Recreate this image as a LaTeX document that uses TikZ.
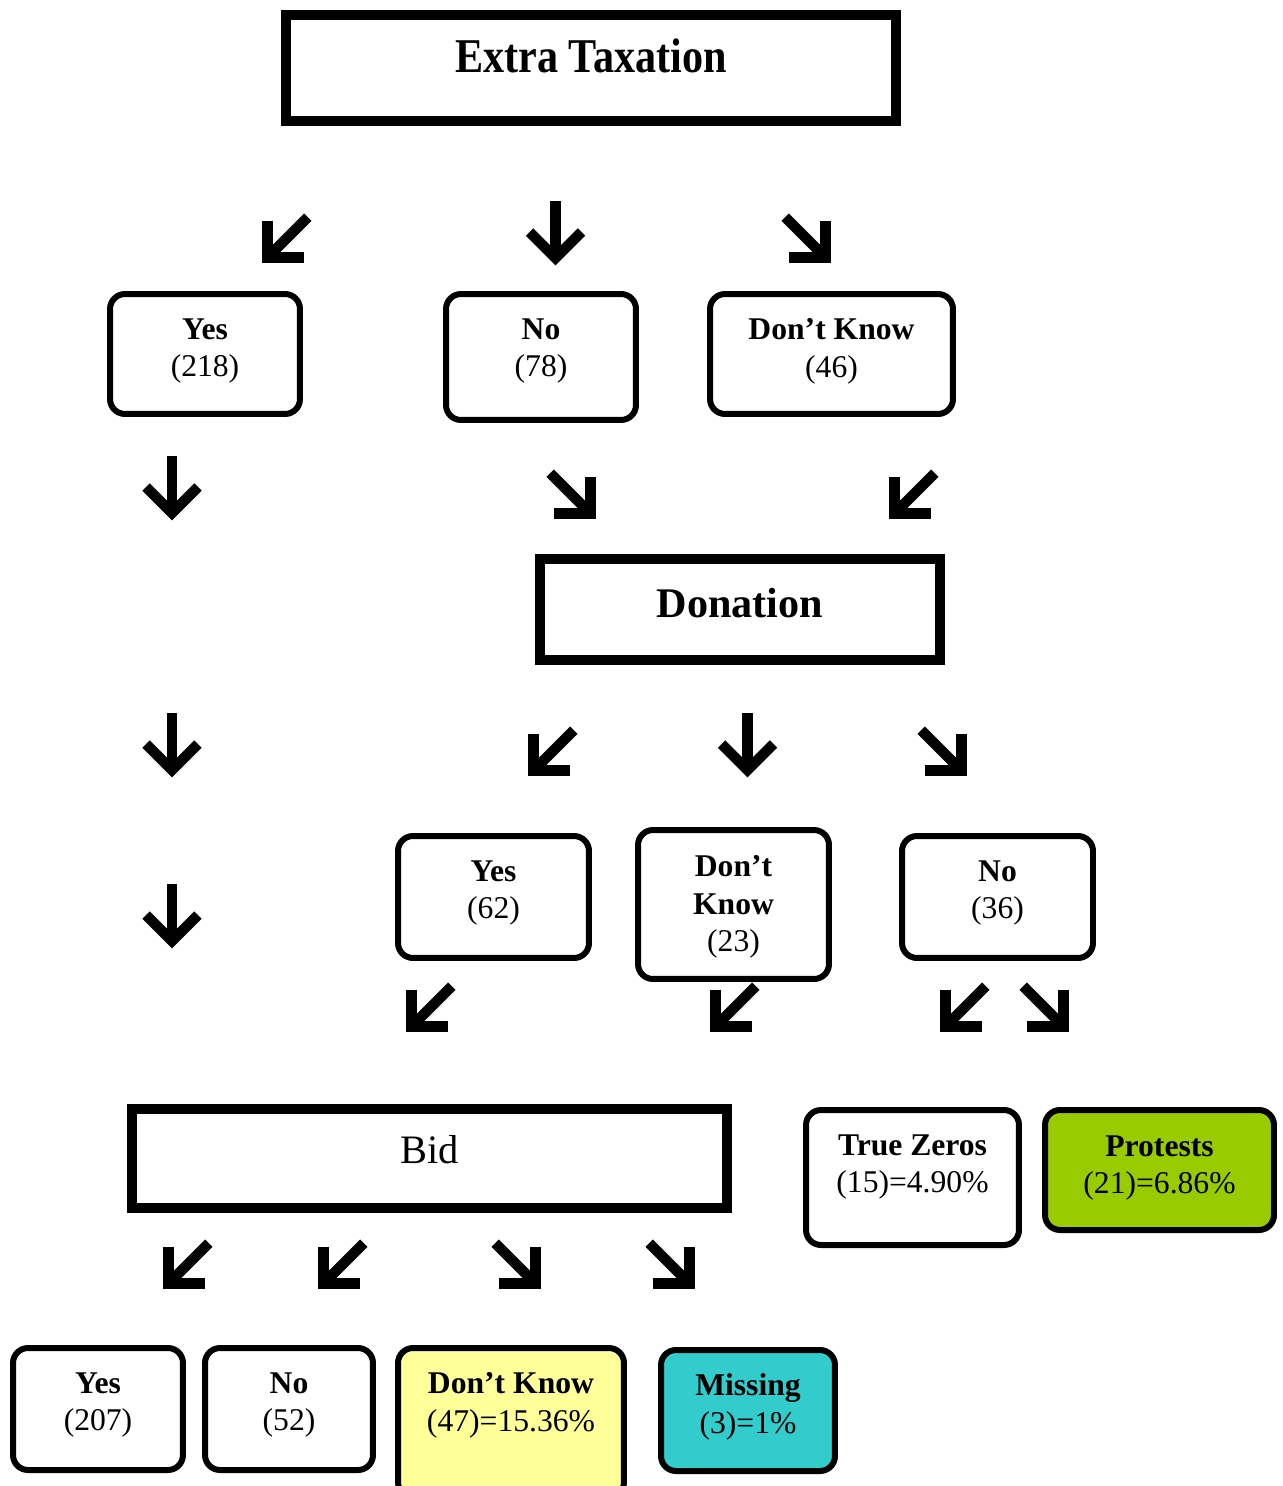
\documentclass[tikz,border=0pt]{standalone}
\usepackage{fontspec}
\setmainfont{Liberation Serif}
\usepackage{tikz}
\usetikzlibrary{positioning}
\definecolor{protgreen}{HTML}{99CC00}
\definecolor{dkyellow}{HTML}{FFFF99}
\definecolor{missteal}{HTML}{33CCCC}
\tikzstyle{bigbox} = [draw, line width=0.2cm, inner sep=0pt]
\tikzstyle{ansbox} = [draw, line width=0.12cm, rounded corners=0.3cm, inner sep=0pt]
\tikzstyle{txt} = [align=center, inner sep=0pt, font=\fontsize{18}{21.5}\selectfont]
\tikzstyle{headtxt} = [align=center, inner sep=0pt, font=\fontsize{24}{28}\selectfont]
\tikzstyle{fatarrow} = [line width=0.21cm, line join=miter, line cap=butt]

\begin{document}
\begin{tikzpicture}[x=0.02cm, y=-0.02cm]
	\useasboundingbox (0,0) rectangle (1282,1486);

	% question boxes
	\node [bigbox, minimum width=12.2cm, minimum height=2.12cm] (tax) at (591,68) {};
	\node [bigbox, minimum width=8cm, minimum height=2.02cm] (don) at (740,609.5) {};
	\node [bigbox, minimum width=11.9cm, minimum height=1.98cm] (bid) at (429.5,1158.5) {};
	\node [headtxt, below=0.58cm of tax.north] (taxT) {\scalebox{1}[1.15]{\bfseries Extra Taxation}};
	\node [headtxt, below=0.68cm of don.north] (donT) {\bfseries Donation};
	\node [headtxt, font=\fontsize{23}{28}\selectfont, below=0.62cm of bid.north] (bidT) {Bid};

	% answers to extra taxation
	\node [ansbox, minimum width=3.8cm, minimum height=2.4cm] (yes1) at (205,354) {};
	\node [ansbox, minimum width=3.8cm, minimum height=2.52cm] (no1) at (541,357) {};
	\node [ansbox, minimum width=4.86cm, minimum height=2.4cm] (dk1) at (831.5,354) {};
	\node [txt, below=0.54cm of yes1.north] (yes1T) {\textbf{Yes}\\(218)};
	\node [txt, below=0.54cm of no1.north] (no1T) {\textbf{No}\\(78)};
	\node [txt, below=0.54cm of dk1.north] (dk1T) {\textbf{Don't Know}\\(46)};

	% answers to donation
	\node [ansbox, minimum width=3.82cm, minimum height=2.44cm] (yes2) at (493.5,897) {};
	\node [ansbox, minimum width=3.82cm, minimum height=2.98cm] (dk2) at (733.5,904.5) {};
	\node [ansbox, minimum width=3.82cm, minimum height=2.44cm] (no2) at (997.5,897) {};
	\node [txt, below=0.54cm of yes2.north] (yes2T) {\textbf{Yes}\\(62)};
	\node [txt, below=0.56cm of dk2.north] (dk2T) {\textbf{Don't}\\\textbf{Know}\\(23)};
	\node [txt, below=0.54cm of no2.north] (no2T) {\textbf{No}\\(36)};

	\node [ansbox, minimum width=4.26cm, minimum height=2.7cm] (zero) at (912.5,1177.5) {};
	\node [ansbox, fill=protgreen, minimum width=4.58cm, minimum height=2.4cm] (prot) at (1159.5,1170) {};
	\node [txt, below=0.54cm of zero.north] (zeroT) {\textbf{True Zeros}\\(15)=4.90\%};
	\node [txt, below=0.56cm of prot.north] (protT) {\textbf{Protests}\\(21)=6.86\%};

	% answers to bid
	\node [ansbox, minimum width=3.4cm, minimum height=2.44cm] (yes3) at (98,1409) {};
	\node [ansbox, minimum width=3.36cm, minimum height=2.44cm] (no3) at (289,1409) {};
	\node [ansbox, fill=dkyellow, minimum width=4.52cm, minimum height=2.98cm] (dk3) at (511,1422.5) {};
	\node [ansbox, fill=missteal, minimum width=3.48cm, minimum height=2.42cm] (miss) at (748,1410.5) {};
	\node [txt, below=0.54cm of yes3.north] (yes3T) {\textbf{Yes}\\(207)};
	\node [txt, below=0.54cm of no3.north] (no3T) {\textbf{No}\\(52)};
	\node [txt, below=0.54cm of dk3.north] (dk3T) {\textbf{Don't Know}\\(47)=15.36\%};
	\node [txt, below=0.52cm of miss.north] (missT) {\textbf{Missing}\\(3)=1\%};

	% arrows: tip position and turn (0 down, 45 right, -45 left)
	\foreach \x/\y/\r in {267.5/257.5/-45, 555.5/258/0, 825.5/257.5/45,
			172/513/0, 590.5/513.5/45, 894.5/513.5/-45,
			172/770/0, 533.5/770.5/-45, 747.5/770/0, 961.5/770.5/45,
			172/941/0, 411.5/1026.5/-45, 715.5/1026.5/-45, 945.5/1026.5/-45, 1063.5/1026.5/45,
			168.5/1283.5/-45, 323.5/1283.5/-45, 535.5/1283.5/45, 689.5/1283.5/45}{
		\begin{scope}[shift={(\x,\y)}, rotate=\r]
		\draw [fatarrow] (0,-57) -- (0,0);
		\draw [fatarrow] (-26,-26) -- (0,0) -- (26,-26);
		\end{scope}
	}

\end{tikzpicture}
\end{document}
